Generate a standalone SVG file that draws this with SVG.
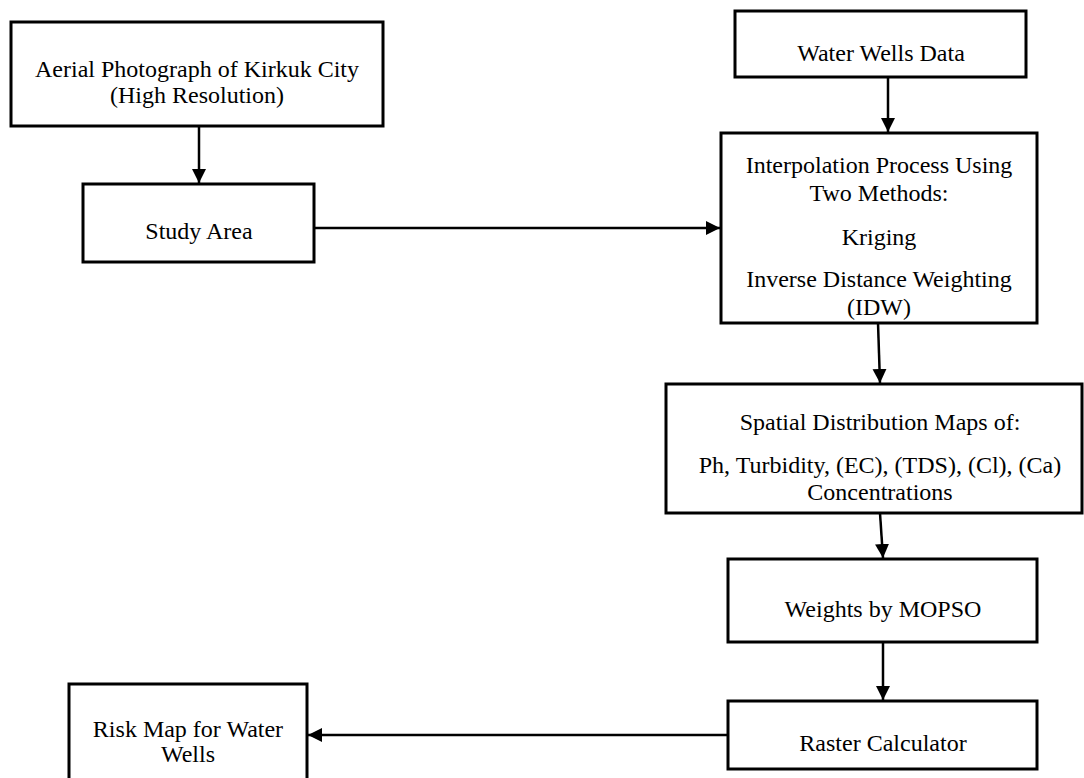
<svg xmlns="http://www.w3.org/2000/svg" width="1084" height="778" viewBox="0 0 1084 778">
<style>
.box{fill:#fff;stroke:#000;stroke-width:3}
.t{font-family:"Liberation Serif","Times New Roman",serif;font-size:24px;fill:#000;text-anchor:middle}
.c{stroke:#000;stroke-width:2.5;fill:none;marker-end:url(#ah)}
</style>
<defs>
<marker id="ah" markerUnits="userSpaceOnUse" markerWidth="16" markerHeight="16" refX="14" refY="7" orient="auto">
<path d="M0,0 L14,7 L0,14 Z" fill="#000"/>
</marker>
</defs>
<rect width="1084" height="778" fill="#fff"/>
<g id="connectors">
<line class="c" x1="199" y1="126" x2="199" y2="183"/>
<line class="c" x1="314" y1="228" x2="720" y2="228"/>
<line class="c" x1="888" y1="77" x2="888" y2="132"/>
<line class="c" x1="878" y1="323" x2="880" y2="383"/>
<line class="c" x1="880" y1="513" x2="883" y2="558"/>
<line class="c" x1="883" y1="642" x2="883" y2="700"/>
<line class="c" x1="728" y1="735" x2="308" y2="735"/>
</g>
<g id="aerial">
<rect class="box" x="11" y="22" width="372" height="104"/>
<text class="t" x="197" y="77">Aerial Photograph of Kirkuk City</text>
<text class="t" x="197" y="103">(High Resolution)</text>
</g>
<g id="study">
<rect class="box" x="83" y="184" width="231" height="78"/>
<text class="t" x="199" y="239">Study Area</text>
</g>
<g id="wells">
<rect class="box" x="735" y="11" width="291" height="66"/>
<text class="t" x="881" y="61">Water Wells Data</text>
</g>
<g id="interp">
<rect class="box" x="721" y="133" width="316" height="190"/>
<text class="t" x="879" y="173">Interpolation Process Using</text>
<text class="t" x="879" y="201">Two Methods:</text>
<text class="t" x="879" y="245">Kriging</text>
<text class="t" x="879" y="287">Inverse Distance Weighting</text>
<text class="t" x="879" y="315">(IDW)</text>
</g>
<g id="spatial">
<rect class="box" x="666" y="384" width="416" height="129"/>
<text class="t" x="880" y="430">Spatial Distribution Maps of:</text>
<text class="t" x="880" y="473">Ph, Turbidity, (EC), (TDS), (Cl), (Ca)</text>
<text class="t" x="880" y="500">Concentrations</text>
</g>
<g id="weights">
<rect class="box" x="728" y="559" width="309" height="83"/>
<text class="t" x="883" y="617">Weights by MOPSO</text>
</g>
<g id="raster">
<rect class="box" x="728" y="701" width="309" height="68"/>
<text class="t" x="883" y="751">Raster Calculator</text>
</g>
<g id="risk">
<rect class="box" x="69" y="684" width="238" height="100"/>
<text class="t" x="188" y="737">Risk Map for Water</text>
<text class="t" x="188" y="762">Wells</text>
</g>
</svg>
